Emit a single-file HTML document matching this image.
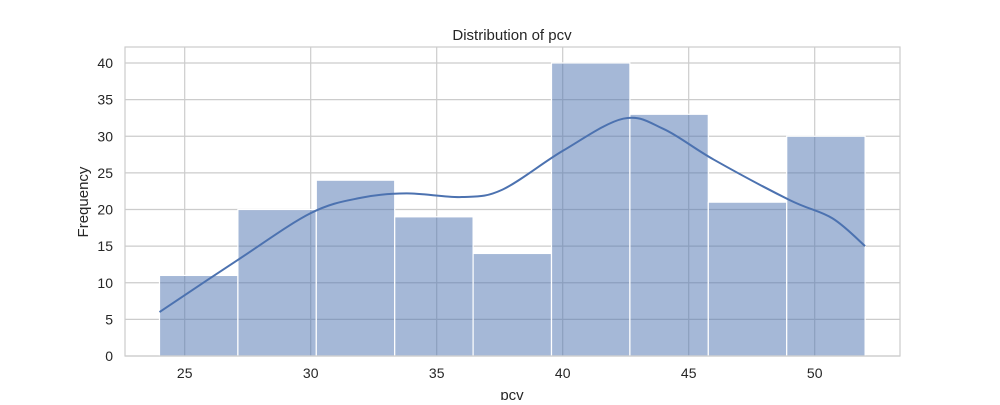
<!DOCTYPE html>
<html><head><meta charset="utf-8"><style>
html,body{margin:0;padding:0;background:#fff;}
svg text{font-family:"Liberation Sans","DejaVu Sans",sans-serif;fill:#262626;}
</style></head><body>
<svg width="1000" height="400" viewBox="0 0 1000 400">
<g id="grid"></g>
<g id="bars"></g>
<path id="kde" fill="none" stroke="#4c72b0" stroke-width="2"/>
<rect x="125" y="47" width="775" height="309" fill="none" stroke="#cccccc" stroke-width="1.2"/>
<g id="ticks"></g>
<text x="512" y="40" text-anchor="middle" font-size="15">Distribution of pcv</text>
<text x="512" y="400" text-anchor="middle" font-size="15">pcv</text>
<text transform="translate(88,202) rotate(-90)" text-anchor="middle" font-size="15">Frequency</text>
</svg>
<script>
const binStart = 24, binEnd = 52;
const counts = [11,20,24,19,14,40,33,21,30];
const xTicks = [25,30,35,40,45,50];
const yTicks = [0,5,10,15,20,25,30,35,40];
const kdeX = [24,27.1,30,32,33.8,36,37.6,40,42.4,44,46,49,50.7,52];
const kdeY = [6,13.1,19.5,21.6,22.2,21.7,22.7,28,32.4,31,26.8,21.3,18.8,15];
const NS='http://www.w3.org/2000/svg';
const xs = v => 184.7 + (v-25)*25.2;
const ys = v => 356 - v*7.325;
const grid=document.getElementById('grid'), bars=document.getElementById('bars'), ticks=document.getElementById('ticks');
function mk(tag,attrs,parent){const e=document.createElementNS(NS,tag);for(const k in attrs)e.setAttribute(k,attrs[k]);parent.appendChild(e);return e;}
xTicks.forEach(t=>{
  const l=mk('line',{x1:xs(t),x2:xs(t),y1:47,y2:356,stroke:'#cccccc','stroke-width':1.2},grid);
  
  
  const tx=mk('text',{x:xs(t),y:378,'text-anchor':'middle','font-size':14},ticks);tx.textContent=t;
  
  
});
yTicks.forEach(t=>{
  const l=mk('line',{x1:125,x2:900,y1:ys(t),y2:ys(t),stroke:'#cccccc','stroke-width':1.2},grid);
  
  
  const tx=mk('text',{x:113,y:ys(t)+5,'text-anchor':'end','font-size':14},ticks);tx.textContent=t;
  
  
});
const bw=(binEnd-binStart)/counts.length;
counts.forEach((c,i)=>{
  const x0=xs(binStart+i*bw), x1=xs(binStart+(i+1)*bw);
  const r=mk('rect',{x:x0,y:ys(c),width:x1-x0,height:ys(0)-ys(c),fill:'rgba(76,114,176,0.5)',stroke:'#ffffff','stroke-width':1.2},bars);
  
  
});
const P=kdeX.map((x,i)=>[xs(x),ys(kdeY[i])]);
let d='M'+P[0][0]+','+P[0][1];
for(let i=0;i<P.length-1;i++){
  const p0=P[Math.max(0,i-1)],p1=P[i],p2=P[i+1],p3=P[Math.min(P.length-1,i+2)];
  const c1=[p1[0]+(p2[0]-p0[0])/6,p1[1]+(p2[1]-p0[1])/6];
  const c2=[p2[0]-(p3[0]-p1[0])/6,p2[1]-(p3[1]-p1[1])/6];
  d+=` C${c1[0]},${c1[1]} ${c2[0]},${c2[1]} ${p2[0]},${p2[1]}`;
}
document.getElementById('kde').setAttribute('d',d);
</script>
</body></html>
